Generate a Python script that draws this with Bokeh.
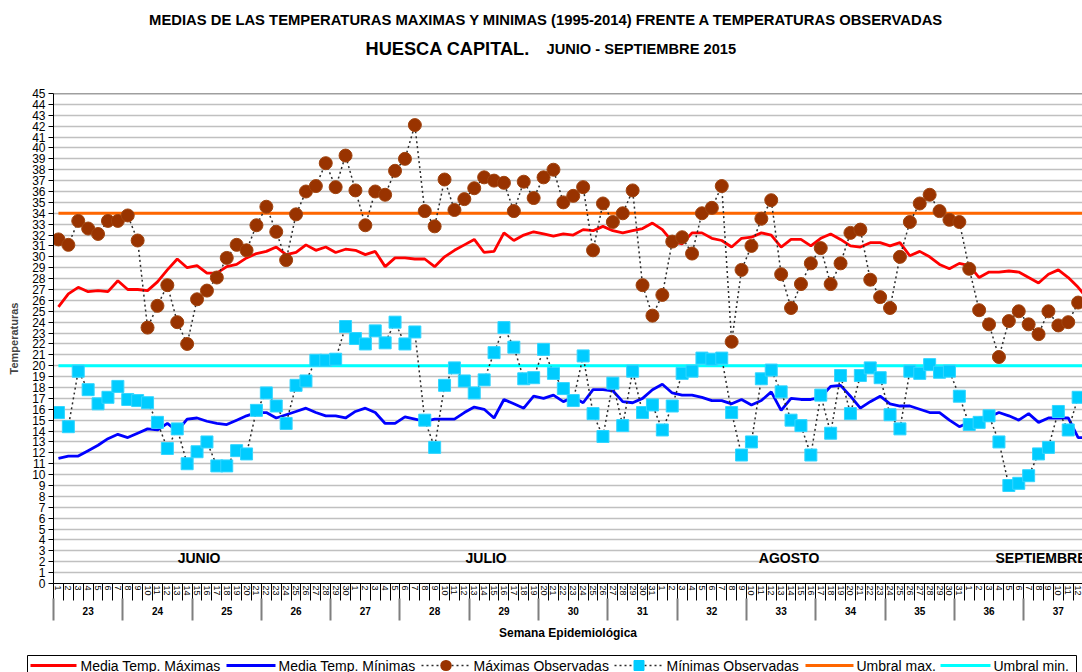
import math
import pandas as pd
from bokeh.plotting import figure
from bokeh.core.properties import value
from bokeh.models import (Range1d, LinearAxis, FixedTicker, Label, Span)
from bokeh.embed import file_html
from bokeh.resources import INLINE

# ---------------- data ----------------
START_DATE = "2015-06-01"
END_DATE = "2015-09-13"

MEDIA_MAX = [25.4, 26.6, 27.2, 26.8, 26.9, 26.8, 27.8, 27.0, 27.0, 26.9,
             27.7, 28.8, 29.8, 29.0, 29.2, 28.5, 28.5, 29.1, 29.3, 29.9,
             30.3, 30.5, 30.9, 30.2, 30.4, 31.1, 30.6, 30.9, 30.4, 30.7,
             30.6, 30.2, 30.5, 29.1, 29.9, 29.9, 29.8, 29.8, 29.1, 30.0,
             30.6, 31.1, 31.6, 30.4, 30.5, 32.2, 31.5, 32.0, 32.3, 32.1,
             31.9, 32.1, 32.0, 32.5, 32.4, 32.8, 32.4, 32.2, 32.4, 32.6,
             33.1, 32.5, 31.4, 31.2, 32.2, 32.2, 31.7, 31.5, 30.9, 31.7,
             31.8, 32.2, 32.0, 30.9, 31.6, 31.6, 31.0, 31.7, 32.1, 31.6,
             31.0, 30.9, 31.3, 31.3, 31.0, 31.3, 30.1, 30.5, 30.0, 29.3,
             28.9, 29.4, 29.2, 28.1, 28.6, 28.6, 28.7, 28.6, 28.1, 27.6,
             28.4, 28.8, 28.1, 27.2, 26.1]

MEDIA_MIN = [11.5, 11.7, 11.7, 12.2, 12.7, 13.3, 13.7, 13.4, 13.8, 14.2,
             14.1, 14.7, 14.0, 15.1, 15.2, 14.9, 14.7, 14.6, 15.0, 15.4,
             15.7, 15.7, 15.2, 15.5, 15.8, 16.1, 15.7, 15.4, 15.4, 15.2,
             15.8, 16.1, 15.7, 14.7, 14.7, 15.3, 15.1, 14.9, 15.1, 15.1,
             15.1, 15.7, 16.2, 16.0, 15.2, 16.9, 16.5, 16.1, 17.2, 17.0,
             17.3, 16.7, 17.1, 16.6, 17.8, 17.8, 17.7, 16.7, 16.6, 17.0,
             17.8, 18.3, 17.5, 17.3, 17.3, 17.1, 16.8, 16.8, 16.5, 16.9,
             16.4, 16.8, 17.6, 15.9, 17.0, 16.9, 16.9, 17.1, 18.1, 18.2,
             17.2, 16.1, 16.7, 17.2, 16.5, 16.3, 16.3, 16.0, 15.7, 15.7,
             15.0, 14.4, 14.8, 15.2, 15.3, 15.7, 15.4, 15.0, 15.6, 14.8,
             15.2, 15.2, 15.2, 13.4, 13.4]

OBS_MAX = [31.6, 31.1, 33.3, 32.6, 32.1, 33.3, 33.3, 33.8, 31.5, 23.5,
           25.5, 27.4, 24.0, 22.0, 26.1, 26.9, 28.1, 29.9, 31.1, 30.6,
           32.9, 34.6, 32.3, 29.7, 33.9, 36.0, 36.5, 38.6, 36.4, 39.3,
           36.1, 32.9, 36.0, 35.7, 37.9, 39.0, 42.1, 34.2, 32.8, 37.1,
           34.3, 35.3, 36.3, 37.3, 37.0, 36.8, 34.2, 36.9, 35.4, 37.3,
           38.0, 35.0, 35.6, 36.4, 30.6, 34.9, 33.2, 34.0, 36.1, 27.4,
           24.6, 26.5, 31.4, 31.8, 30.3, 34.0, 34.5, 36.5, 22.2, 28.8,
           31.0, 33.5, 35.2, 28.4, 25.3, 27.5, 29.4, 30.8, 27.5, 29.4,
           32.2, 32.5, 27.9, 26.3, 25.3, 30.0, 33.2, 34.9, 35.7, 34.2,
           33.4, 33.2, 28.9, 25.1, 23.8, 20.8, 24.1, 25.0, 23.8, 22.9,
           25.0, 23.7, 24.0, 25.8]

OBS_MIN = [15.7, 14.4, 19.5, 17.8, 16.5, 17.1, 18.1, 16.9, 16.8, 16.6,
           14.8, 12.4, 14.2, 11.0, 12.1, 13.0, 10.8, 10.8, 12.2, 11.9,
           15.9, 17.5, 16.3, 14.7, 18.2, 18.6, 20.5, 20.5, 20.6, 23.6,
           22.5, 22.0, 23.2, 22.1, 24.0, 22.0, 23.1, 15.0, 12.5, 18.2,
           19.8, 18.6, 17.5, 18.7, 21.2, 23.5, 21.7, 18.8, 18.9, 21.5,
           19.3, 17.9, 16.8, 20.9, 15.6, 13.5, 18.4, 14.5, 19.5, 15.7,
           16.4, 14.1, 16.3, 19.3, 19.5, 20.7, 20.6, 20.7, 15.7, 11.8,
           13.0, 18.8, 19.6, 17.6, 15.0, 14.5, 11.8, 17.3, 13.8, 19.1,
           15.6, 19.1, 19.8, 18.9, 15.5, 14.2, 19.5, 19.3, 20.1, 19.4,
           19.5, 17.2, 14.6, 14.8, 15.4, 13.0, 9.0, 9.2, 9.9, 11.9,
           12.5, 15.8, 14.1, 17.1]

UMBRAL_MAX = 34
UMBRAL_MIN = 20

WEEKS = ["23", "24", "25", "26", "27", "28", "29", "30", "31", "32",
         "33", "34", "35", "36", "37"]
MONTHS = ["JUNIO", "JULIO", "AGOSTO", "SEPTIEMBRE"]
Y_TICKS = list(range(0, 46))

TITLE_1 = "MEDIAS DE LAS TEMPERATURAS MAXIMAS Y MINIMAS (1995-2014)  FRENTE A TEMPERATURAS OBSERVADAS"
TITLE_2A = "HUESCA CAPITAL."
TITLE_2B = "JUNIO - SEPTIEMBRE 2015"

SERIES_NAMES = ["Media Temp. Máximas", "Media Temp. Mínimas", "Máximas Observadas",
                "Mínimas Observadas", "Umbral max.", "Umbral min."]

# ---------------- derived ----------------
dates = pd.date_range(START_DATE, END_DATE, freq="D")
n_days = len(dates)
x_days = list(range(n_days))
day_labels = [str(d.day) for d in dates]
x_obs_max = x_days[:len(OBS_MAX)]
x_obs_min = x_days[:len(OBS_MIN)]

FONT = "Liberation Sans"

# ---------------- layout geometry ----------------
W, H = 1082, 672
B_LEFT, B_TOP, B_BOTTOM = 53, 93, 89
X0, X1 = -0.5, 103.44
Y0, Y1 = 0, 45
PX_PER_X = (W - B_LEFT) / (X1 - X0)
PX_PER_Y = (H - B_TOP - B_BOTTOM) / (Y1 - Y0)


def px_x(px):
    """page pixel column -> data x"""
    return X0 + (px - B_LEFT) / PX_PER_X


def px_y(py):
    """page pixel row -> data y"""
    return Y0 + (H - B_BOTTOM - py) / PX_PER_Y


p = figure(width=W, height=H, output_backend="svg", toolbar_location=None,
           x_range=Range1d(X0, X1), y_range=Range1d(Y0, Y1),
           min_border_left=B_LEFT, min_border_right=0, min_border_top=B_TOP,
           min_border_bottom=B_BOTTOM)
p.outline_line_color = None
p.background_fill_color = "white"
p.border_fill_color = "white"
p.xgrid.visible = False

# y axis
p.yaxis.ticker = FixedTicker(ticks=Y_TICKS)
p.yaxis.axis_label = "Temperaturas"
p.yaxis.axis_label_text_font = FONT
p.yaxis.axis_label_text_font_size = "11px"
p.yaxis.axis_label_text_font_style = "bold"
p.yaxis.axis_label_standoff = 9
p.yaxis.major_label_text_font = FONT
p.yaxis.major_label_text_font_size = "12px"
p.yaxis.major_label_text_color = "black"
p.yaxis.major_tick_out = 5
p.yaxis.major_tick_in = 0
p.yaxis.major_label_standoff = 3
p.yaxis.axis_line_color = "black"
p.yaxis.major_tick_line_color = "black"
p.ygrid.grid_line_color = "#c0c0c0"
p.ygrid.grid_line_width = 1.5

# day axis (separators drawn outward through a negative inner length)
xa = p.xaxis[0]
xa.ticker = FixedTicker(ticks=x_days, minor_ticks=[i - 0.5 for i in range(n_days + 1)])
xa.major_label_overrides = {i: lab for i, lab in zip(x_days, day_labels)}
xa.major_label_orientation = -math.pi / 2
xa.major_label_text_font = FONT
xa.major_label_text_font_size = "9px"
xa.major_label_text_color = "black"
xa.major_label_standoff = 2
xa.major_tick_out = 0
xa.major_tick_in = 0
xa.minor_tick_out = 0
xa.minor_tick_in = -17
xa.minor_tick_line_color = "black"
xa.axis_line_color = "black"

# week axis
week_centers = [7 * k + 3 for k in range(len(WEEKS))]
week_bounds = [7 * k - 0.5 for k in range(len(WEEKS) + 1)]
wa = LinearAxis(ticker=FixedTicker(ticks=week_centers, minor_ticks=week_bounds),
                major_label_overrides={c: w for c, w in zip(week_centers, WEEKS)},
                axis_line_color=None, major_tick_out=0, major_tick_in=0,
                minor_tick_out=0, minor_tick_in=-22, minor_tick_line_color="#7f7f7f",
                minor_tick_line_width=2,
                major_label_standoff=8, major_label_text_font=FONT,
                major_label_text_font_size="10px", major_label_text_font_style="bold",
                major_label_text_color="black",
                axis_label="Semana Epidemiológica", axis_label_standoff=8,
                axis_label_text_font=FONT, axis_label_text_font_size="12px",
                axis_label_text_font_style="bold", axis_label_text_color="black")
p.add_layout(wa, "below")

# top border of plot area
p.add_layout(Span(location=Y1, dimension="width", line_color="#404040", line_width=1.5))

# ---------------- series ----------------
C_MMAX, C_MMIN, C_UMAX, C_UMIN = "#ff0000", "#0000ff", "#ff6600", "#00ffff"
C_OMAX, C_OMIN, C_DOT = "#993300", "#00ccff", "#2a2a2a"

p.line([x_days[0], x_days[-1]], [UMBRAL_MAX, UMBRAL_MAX], line_color=C_UMAX, line_width=3)
p.line([x_days[0], x_days[-1]], [UMBRAL_MIN, UMBRAL_MIN], line_color=C_UMIN, line_width=3)
p.line(x_days, MEDIA_MAX, line_color=C_MMAX, line_width=2.8)
p.line(x_days, MEDIA_MIN, line_color=C_MMIN, line_width=2.8)
p.line(x_obs_max, OBS_MAX, line_color=C_DOT, line_width=1.5, line_dash="2 3")
p.line(x_obs_min, OBS_MIN, line_color=C_DOT, line_width=1.5, line_dash="2 3")
p.scatter(x_obs_max, OBS_MAX, marker="circle", size=13,
          fill_color=C_OMAX, line_color="#a0440f", line_width=1)
p.scatter(x_obs_min, OBS_MIN, marker="square", size=12,
          fill_color=C_OMIN, line_color="#33d6ff", line_width=1)

# month labels inside plot
month_pos = [(14.2, "center"), (43.2, "center"), (73.8, "center"), (94.65, "left")]
for name, (mx, align) in zip(MONTHS, month_pos):
    p.add_layout(Label(x=mx, y=2.3, text=name, text_align=align, text_baseline="middle",
                       text_font=FONT, text_font_size="14px", text_font_style="bold",
                       text_color="black"))

# ---------------- titles (overlay-level text, above the plot area) ----------------
p.text(x=[px_x(548)], y=[px_y(19)], text=[TITLE_1], text_align="center", text_baseline="middle",
       text_font=value(FONT), text_font_size="14.8px", text_font_style="bold",
       text_color="black", level="overlay")
p.text(x=[px_x(365)], y=[px_y(48)], text=[TITLE_2A], text_align="left", text_baseline="alphabetic",
       text_font=value(FONT), text_font_size="18.2px", text_font_style="bold",
       text_color="black", level="overlay")
p.text(x=[px_x(546)], y=[px_y(48)], text=[TITLE_2B], text_align="left", text_baseline="alphabetic",
       text_font=value(FONT), text_font_size="14.65px", text_font_style="bold",
       text_color="black", level="overlay")

# ---------------- legend strip (overlay level, below the axes) ----------------
LEG_Y = 665
p.quad(left=[px_x(27)], right=[px_x(1076)], top=[px_y(655)], bottom=[px_y(685)],
       fill_color="white", line_color="black", line_width=1, level="overlay")
leg_items = [
    (30, 76, 80, SERIES_NAMES[0], C_MMAX, "line"),
    (226, 275, 278, SERIES_NAMES[1], C_MMIN, "line"),
    (421, 470, 473, SERIES_NAMES[2], C_OMAX, "circle"),
    (614, 663, 666, SERIES_NAMES[3], C_OMIN, "square"),
    (805, 853, 856, SERIES_NAMES[4], C_UMAX, "line"),
    (940, 990, 993, SERIES_NAMES[5], C_UMIN, "line"),
]
ly = px_y(LEG_Y)
for g0, g1, tx, name, color, kind in leg_items:
    if kind == "line":
        p.segment(x0=[px_x(g0)], y0=[ly], x1=[px_x(g1)], y1=[ly],
                  line_color=color, line_width=3, level="overlay")
    else:
        p.segment(x0=[px_x(g0)], y0=[ly], x1=[px_x(g1)], y1=[ly],
                  line_color=C_DOT, line_width=1.5, line_dash="2 3", level="overlay")
        gc = (g0 + g1) / 2
        if kind == "circle":
            # round-capped stub -> filled dot of 11 px
            p.segment(x0=[px_x(gc - 0.2)], y0=[ly], x1=[px_x(gc + 0.2)], y1=[ly],
                      line_color=color, line_width=11, line_cap="round", level="overlay")
        else:
            p.quad(left=[px_x(gc - 5)], right=[px_x(gc + 5)],
                   top=[px_y(LEG_Y - 5)], bottom=[px_y(LEG_Y + 5)],
                   fill_color=color, line_color=color, line_width=1, level="overlay")
    p.text(x=[px_x(tx)], y=[ly], text=[name], text_align="left", text_baseline="middle",
           text_font=value(FONT), text_font_size="14px", text_color="black", level="overlay")

open("out.html", "w").write(file_html(p, INLINE))
